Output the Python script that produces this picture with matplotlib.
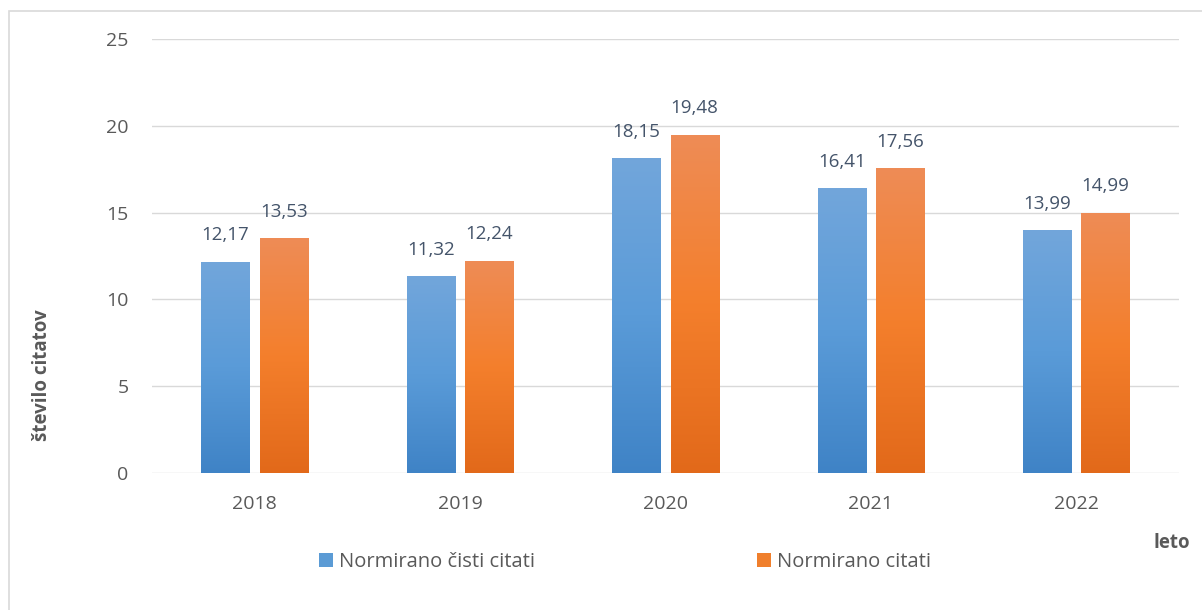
import numpy as np
import matplotlib.pyplot as plt
from matplotlib.colors import LinearSegmentedColormap
from matplotlib.patches import Rectangle

leta = ['2018', '2019', '2020', '2021', '2022']
cisti = [12.17, 11.32, 18.15, 16.41, 13.99]
citati = [13.53, 12.24, 19.48, 17.56, 14.99]
oznake = ['Normirano čisti citati', 'Normirano citati']

siva = '#595959'
plt.rcParams['font.family'] = ['Open Sans', 'DejaVu Sans']

fig = plt.figure(figsize=(12.02, 6.10), dpi=100)
ax = fig.add_axes([152/1202, 1-473/610, 1027/1202, 434/610])

x = np.arange(len(leta))
w = 0.235
b1 = ax.bar(x - 0.142, cisti, w, color='#5b9bd5', label=oznake[0], zorder=2)
b2 = ax.bar(x + 0.142, citati, w, color='#f07f2c', label=oznake[1], zorder=2)

# navpicni gradient na stolpcih (kot v excelu)
modra = LinearSegmentedColormap.from_list('m', ['#3f83c6', '#5a9bd8', '#72a6db'])
oranz = LinearSegmentedColormap.from_list('o', ['#e2691a', '#f47f2c', '#ee8c56'])
grad = np.linspace(0, 1, 256).reshape(-1, 1)
for bars, cm in ((b1, modra), (b2, oranz)):
    for r in bars:
        x0, y0 = r.get_x(), r.get_y()
        im = ax.imshow(grad, cmap=cm, aspect='auto', origin='lower',
                       extent=[x0, x0 + r.get_width(), y0, y0 + r.get_height()], zorder=3)
        im.set_clip_path(r)

for bars, vals in ((b1, cisti), (b2, citati)):
    for r, v in zip(bars, vals):
        ax.text(r.get_x() + r.get_width()/2, v + 1.0, f'{v:.2f}'.replace('.', ','),
                ha='center', va='bottom', fontsize=13.5, color='#44546a')

ax.set_xlim(-0.5, 4.5)
ax.set_ylim(0, 25)
ax.set_yticks([0, 5, 10, 15, 20, 25])
ax.set_xticks(x)
ax.set_xticklabels(leta)
ax.tick_params(length=0, labelsize=14, colors=siva)
ax.tick_params(axis='x', pad=16)
ax.tick_params(axis='y', pad=17)
ax.grid(axis='y', color='#d9d9d9', linewidth=1, zorder=0)
for s in ax.spines.values():
    s.set_visible(False)
ax.set_axisbelow(True)

fig.text(42/1202, 1-375/610, 'število citatov', rotation=90, ha='center', va='center',
         fontsize=13.5, fontweight='bold', color=siva)
fig.text(1172/1202, 1-543/610, 'leto', ha='center', va='center',
         fontsize=13.5, fontweight='bold', color=siva)

fig.legend(handles=[b1, b2], labels=oznake, loc='center', bbox_to_anchor=(625/1202, 1-562/610),
           ncol=2, frameon=False, fontsize=14.5, labelcolor=siva, handlelength=0.7, handleheight=0.7,
           handletextpad=0.3, columnspacing=11)

# okvir grafa (desni in spodnji rob sta odrezana)
fig.patches.append(Rectangle((9/1202, -0.05), 1.2, 1 - 11/610 + 0.05, transform=fig.transFigure,
                             fill=False, edgecolor='#d9d9d9', linewidth=1.2))

fig.savefig('out.png', dpi=100)
